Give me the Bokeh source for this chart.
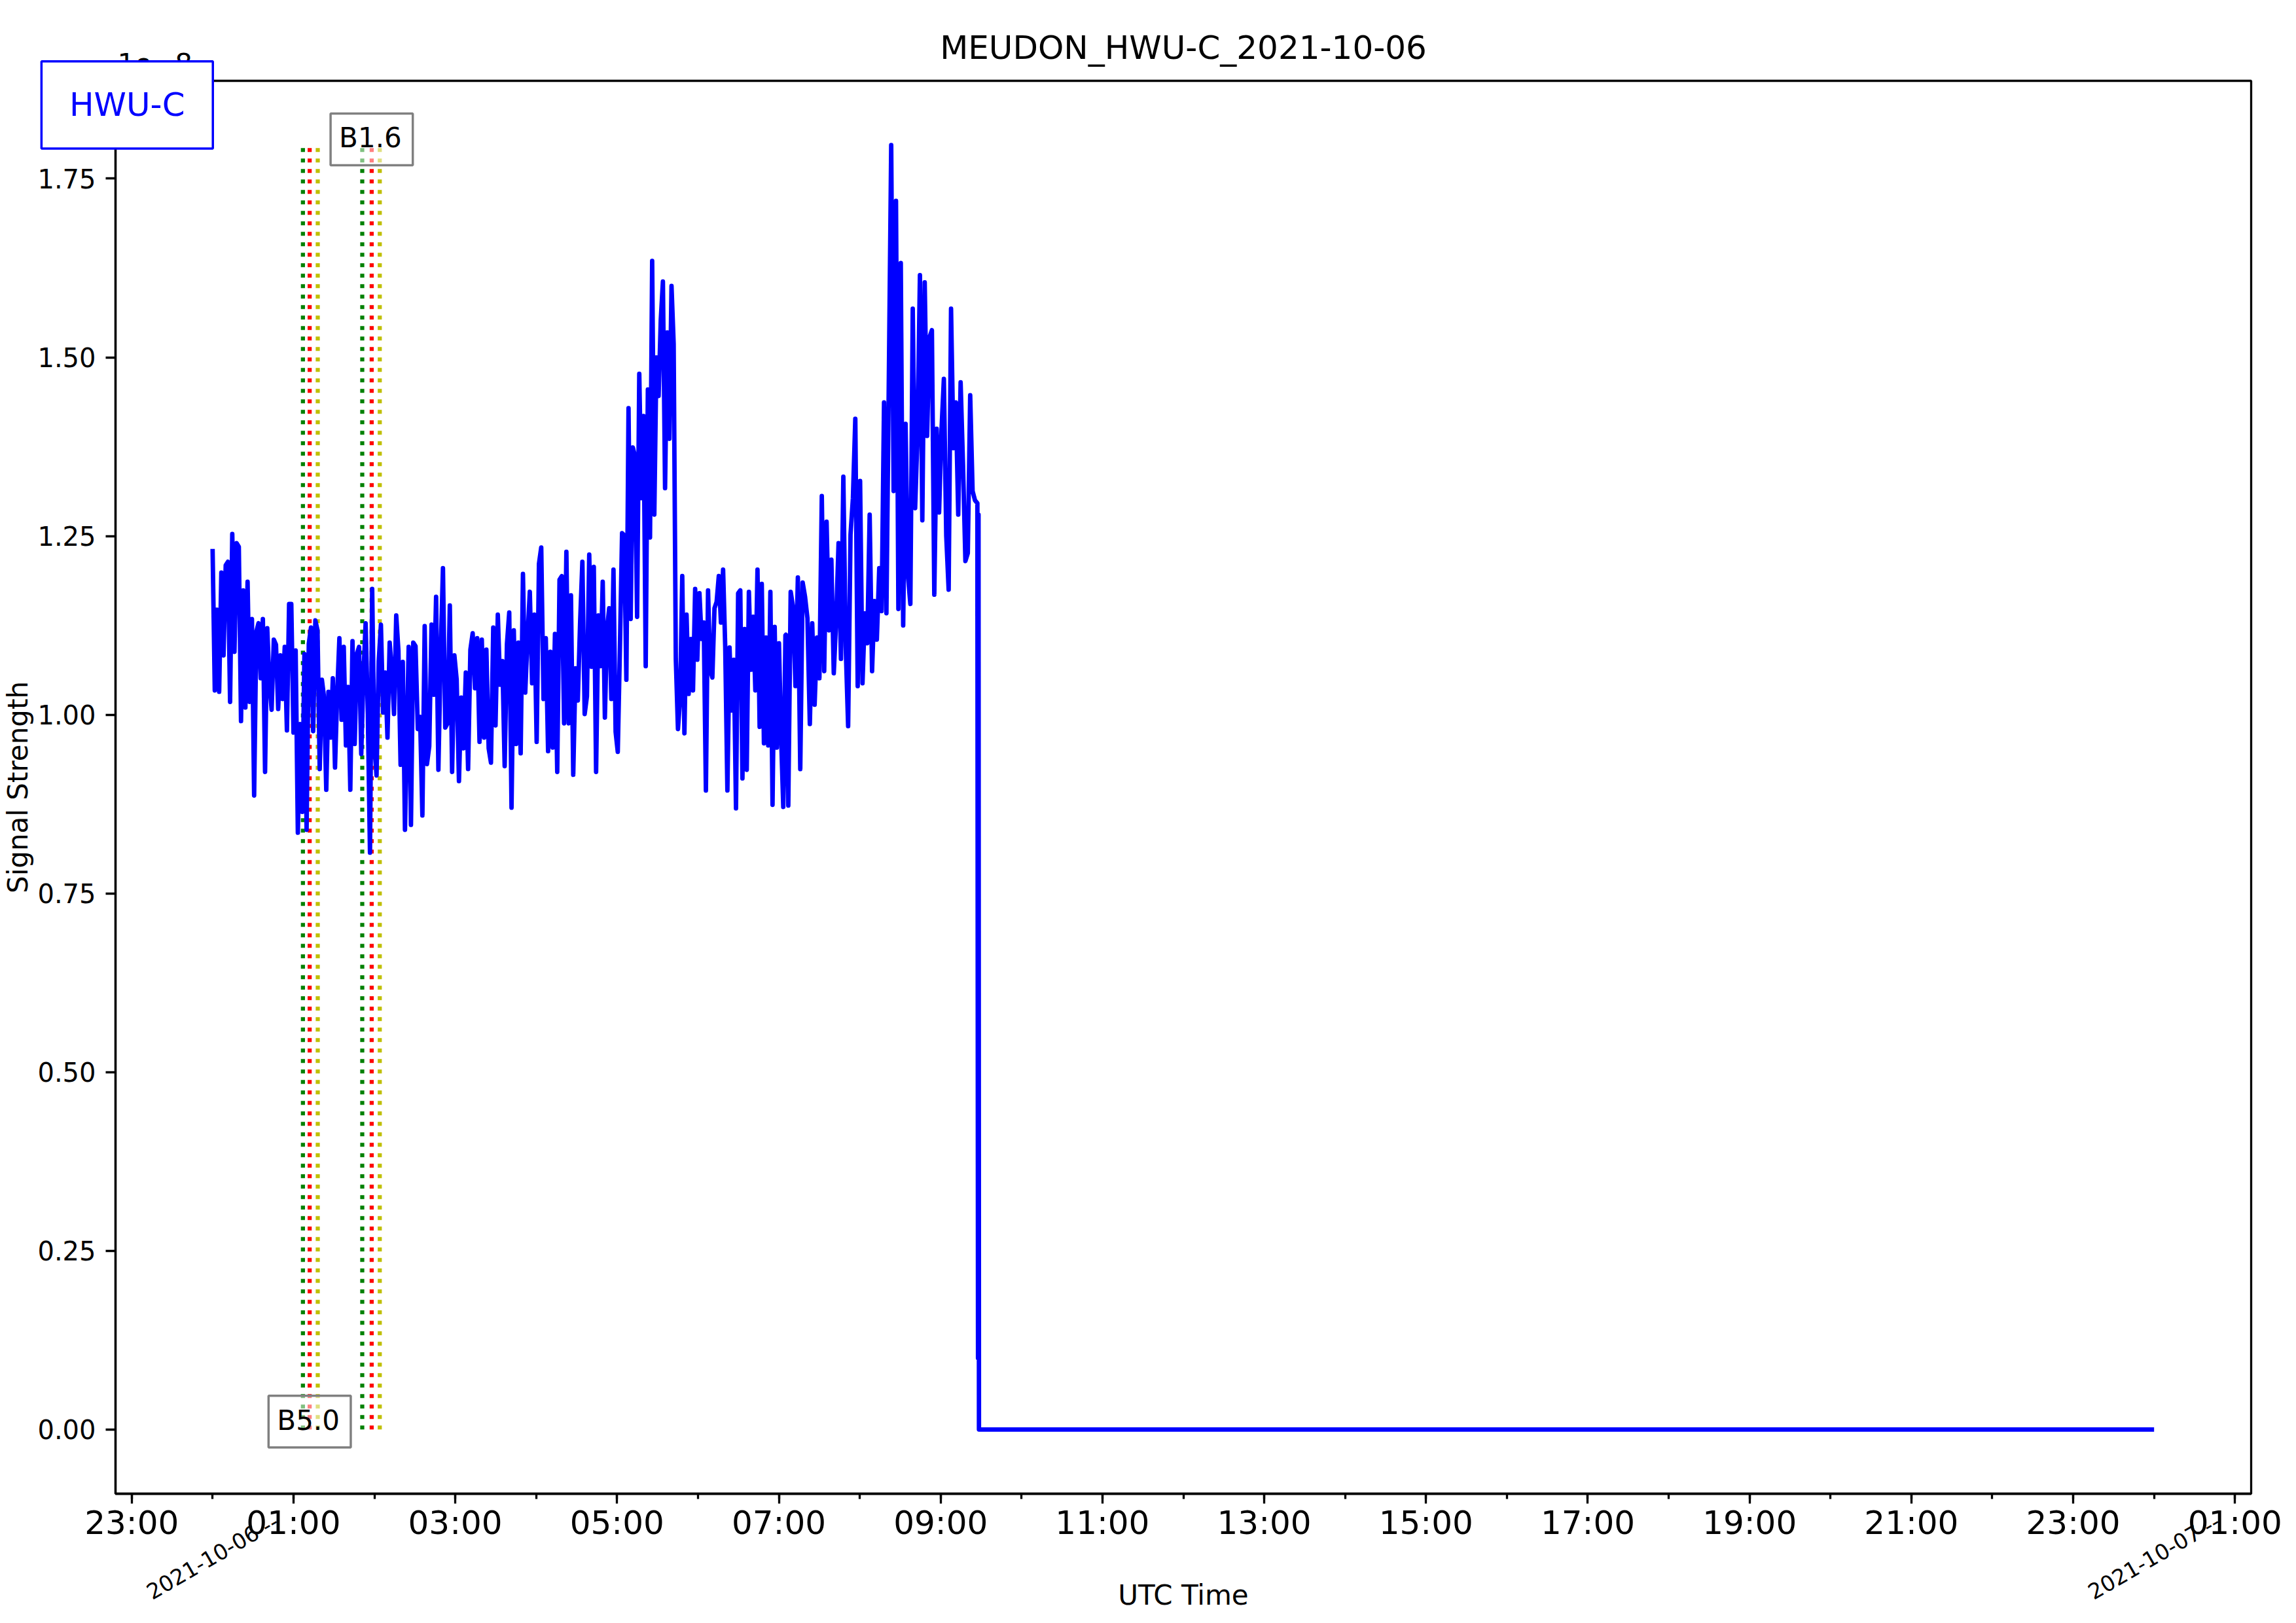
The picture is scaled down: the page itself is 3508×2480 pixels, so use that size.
import numpy as np
import pandas as pd
from bokeh.plotting import figure
from bokeh.models import (Range1d, FixedTicker, DatetimeTickFormatter,
                          NumeralTickFormatter, Label)
from bokeh.core.properties import value
from bokeh.embed import file_html
from bokeh.resources import INLINE

# ---------------- data (signal strength in units of 1e-8) ----------------
TITLE = "MEUDON_HWU-C_2021-10-06"
STATION = "HWU-C"
DATE_LABELS = ["2021-10-06 --", "2021-10-07 --"]
DATE_TICKS = ["2021-10-06 00:00", "2021-10-07 00:00"]
Y_TICKS = [0.0, 0.25, 0.5, 0.75, 1.0, 1.25, 1.5, 1.75]
OFFSET_TEXT = "1e\u22128"

block_1_span = ("2021-10-06 00:00:00", "2021-10-06 02:22:41")
block_1_vals = [
    1.232, 1.034, 1.147, 1.032, 1.199, 1.083, 1.209, 1.214, 1.018, 1.253,
    1.088, 1.240, 1.235, 0.991, 1.174, 1.010, 1.186, 1.018, 1.134, 0.887,
    1.116, 1.128, 1.051, 1.134, 0.920, 1.121, 1.045, 1.007, 1.105, 1.098,
    1.008, 1.083, 1.022, 1.095, 0.978, 1.155, 1.155, 0.975, 1.090, 0.835,
    0.987, 0.864, 1.085, 0.839, 1.099, 1.122, 0.977, 1.132, 1.118, 0.924,
    1.049, 1.024, 0.895, 1.032, 0.968, 1.051, 0.926, 1.030, 1.107, 0.993,
    1.095, 0.957, 1.039, 0.895, 1.103, 0.959, 1.085, 1.095, 0.945, 1.055,
    1.128, 1.003, 0.807, 1.176, 0.957, 0.915, 1.075, 1.126, 1.003, 1.059,
    0.968, 1.101, 1.062, 1.001, 1.139, 1.090, 0.930, 1.074, 0.839,
]

block_2_span = ("2021-10-06 02:25:26", "2021-10-06 04:46:08")
block_2_vals = [
    1.095, 0.846, 1.101, 1.096, 0.980, 0.997, 0.859, 1.124, 0.931, 0.956,
    1.126, 1.028, 1.165, 0.923, 1.086, 1.205, 0.982, 0.988, 1.153, 0.920,
    1.083, 1.049, 0.907, 1.024, 0.953, 1.059, 0.924, 1.091, 1.114, 1.037,
    1.107, 0.962, 1.105, 0.968, 1.091, 0.953, 0.933, 1.122, 0.985, 1.140,
    1.042, 1.075, 0.928, 1.099, 1.143, 0.870, 1.118, 0.959, 1.101, 0.946,
    1.197, 1.031, 1.107, 1.172, 1.044, 1.140, 0.962, 1.211, 1.234, 1.022,
    1.107, 0.949, 1.088, 0.954, 1.113, 0.920, 1.189, 1.194, 0.988, 1.228,
    0.988, 1.167, 0.916, 1.065, 1.020, 1.128, 1.214, 1.001, 1.026, 1.224,
    1.067, 1.207, 0.920, 1.139,
]

block_3_span = ("2021-10-06 04:47:46", "2021-10-06 07:04:52")
block_3_vals = [
    1.068, 1.186, 0.996, 1.120, 1.149, 1.022, 1.203, 0.976, 0.948, 1.094,
    1.254, 1.251, 1.049, 1.429, 1.134, 1.374, 1.362, 1.137, 1.477, 1.303,
    1.418, 1.068, 1.455, 1.248, 1.635, 1.280, 1.500, 1.446, 1.552, 1.606,
    1.317, 1.535, 1.386, 1.600, 1.519, 1.078, 0.980, 1.022, 1.194, 0.974,
    1.140, 1.029, 1.106, 1.034, 1.176, 1.077, 1.170, 1.106, 1.129, 0.894,
    1.174, 1.063, 1.052, 1.149, 1.158, 1.194, 1.129, 1.203, 1.094, 0.894,
    1.094, 1.006, 1.077, 0.869, 1.170, 1.174, 0.911, 1.120, 0.923, 1.172,
    1.063, 1.137, 1.034, 1.203, 0.983, 1.183, 0.960, 1.108, 0.957, 1.172,
    0.874, 1.123, 0.954, 1.100, 0.968, 0.871, 1.111,
]

block_4_span = ("2021-10-06 07:05:13", "2021-10-06 09:27:14")
block_4_vals = [
    1.112, 0.873, 1.172, 1.150, 1.040, 1.192, 0.924, 1.185, 1.165, 1.135,
    0.987, 1.128, 1.014, 1.108, 1.051, 1.306, 1.061, 1.270, 1.118, 1.217,
    1.058, 1.132, 1.240, 1.078, 1.333, 1.095, 0.984, 1.252, 1.303, 1.414,
    1.040, 1.327, 1.044, 1.142, 1.100, 1.280, 1.061, 1.159, 1.105, 1.205,
    1.145, 1.437, 1.142, 1.467, 1.797, 1.313, 1.719, 1.148, 1.632, 1.125,
    1.407, 1.195, 1.155, 1.568, 1.289, 1.393, 1.615, 1.272, 1.605, 1.390,
    1.528, 1.538, 1.168, 1.400, 1.283, 1.397, 1.470, 1.250, 1.175, 1.568,
    1.373, 1.437, 1.280, 1.465, 1.350, 1.215, 1.226, 1.447, 1.313, 1.300,
    1.296,
]

tail_times = ["2021-10-06 09:27:43", "2021-10-06 09:28:05",
              "2021-10-06 09:28:25", "2021-10-07 00:00:00"]
tail_vals = [0.10, 1.28, 0.00, 0.00]

flare_classes = ["B5.0", "B1.6"]
flare_start = ["2021-10-06 01:07", "2021-10-06 01:51"]
flare_peak = ["2021-10-06 01:12", "2021-10-06 01:58"]
flare_end = ["2021-10-06 01:18", "2021-10-06 02:04"]
flare_label_y = [0.011, 1.805]


def ms(t):
    return pd.Timestamp(t).value / 1e6


# ---------------- assemble series ----------------
blocks = [(block_1_span, block_1_vals), (block_2_span, block_2_vals),
          (block_3_span, block_3_vals), (block_4_span, block_4_vals)]
xs, ys = [], []
for (t0, t1), vals in blocks:
    xs.extend(np.linspace(ms(t0), ms(t1), len(vals)).tolist())
    ys.extend(vals)
xs.extend([ms(t) for t in tail_times])
ys.extend(tail_vals)
ymax = max(ys)

FONT = "DejaVu Sans"

p = figure(width=3492, height=2464, x_axis_type="datetime",
           x_range=Range1d(ms("2021-10-05 22:48"), ms("2021-10-07 01:12")),
           y_range=Range1d(-0.05 * ymax, 1.05 * ymax),
           output_backend="svg", toolbar_location=None, title=TITLE,
           min_border_left=172, min_border_right=53,
           min_border_top=123, min_border_bottom=182)
p.background_fill_color = "white"
p.border_fill_color = "white"
p.xgrid.visible = False
p.ygrid.visible = False
p.outline_line_color = "black"
p.outline_line_width = 3.3

p.title.text_font = FONT
p.title.text_font_size = "50px"
p.title.text_font_style = "normal"
p.title.text_color = "black"
p.title.align = "center"
p.title.standoff = 43

# flare lines (start / peak / end)
for starts, color in ((flare_start, "#008000"), (flare_peak, "#ff0000"),
                      (flare_end, "#bfbf00")):
    p.segment(x0=[ms(t) for t in starts], y0=[0.0] * len(starts),
              x1=[ms(t) for t in starts], y1=[ymax] * len(starts),
              line_color=color, line_width=6.25, line_dash="6 10",
              line_cap="butt")

p.line(xs, ys, line_color="#0000ff", line_width=6.8, line_join="round")

# x axis
major = [ms(t) for t in pd.date_range("2021-10-05 23:00", "2021-10-07 01:00", freq="2h")]
minor = [ms(t) for t in pd.date_range("2021-10-05 23:00", "2021-10-07 01:00", freq="1h")]
xa = p.xaxis[0]
xa.ticker = FixedTicker(ticks=major, minor_ticks=minor)
fmt = "%H:%M"
xa.formatter = DatetimeTickFormatter(minutes=fmt, hourmin=fmt, hours=fmt, days=fmt,
                                     months=fmt, years=fmt, minsec=fmt, seconds=fmt)
xa.axis_label = "UTC Time"
ya = p.yaxis[0]
ya.ticker = FixedTicker(ticks=Y_TICKS, minor_ticks=[])
ya.formatter = NumeralTickFormatter(format="0.00")
ya.axis_label = "Signal Strength"

for ax in (xa, ya):
    ax.axis_line_width = 3.3
    ax.axis_line_color = "black"
    ax.major_tick_line_width = 3.3
    ax.minor_tick_line_width = 3.3
    ax.major_tick_in = 0
    ax.major_tick_out = 15
    ax.minor_tick_in = 0
    ax.minor_tick_out = 8
    ax.major_label_text_font = FONT
    ax.axis_label_text_font = FONT
    ax.axis_label_text_font_style = "normal"
    ax.axis_label_text_font_size = "42px"
    ax.axis_label_text_color = "black"
    ax.major_label_text_color = "black"

xa.major_label_text_font_size = "50px"
xa.major_label_standoff = 0
xa.axis_label_standoff = 54
ya.major_label_text_font_size = "40px"
ya.major_label_standoff = 15
ya.axis_label_standoff = 2

# flare class boxes (inside the frame)
for cls, t, yv in zip(flare_classes, flare_peak, flare_label_y):
    p.add_layout(Label(x=ms(t), y=yv, text=cls, text_align="center",
                       text_baseline="middle", text_font=FONT,
                       text_font_size="42px", text_color="black",
                       background_fill_color="white", background_fill_alpha=0.5,
                       border_line_color="#808080", border_line_width=3.5,
                       padding=(13, 17, 13, 17)))

# texts outside the frame: drawn on the overlay level (not clipped)
p.text(x=[ms(t) for t in DATE_TICKS], y=[-0.178] * 2, text=DATE_LABELS,
       angle=30, angle_units="deg", text_align="center", text_baseline="middle",
       text_font=value(FONT), text_font_size=value("33px"), text_color="black",
       level="overlay")

# scale offset text (partly hidden by the station box, as in the original)
p.text(x=[ms("2021-10-05 22:49:24")], y=[1.897], text=[OFFSET_TEXT],
       text_align="left", text_baseline="bottom", text_font=value(FONT),
       text_font_size=value("42px"), text_color="black", level="overlay")

# station box (legend)
p.quad(left=[ms("2021-10-05 21:53:05")], right=[ms("2021-10-06 00:00:12")],
       top=[1.914], bottom=[1.792], fill_color="white", line_color="#0000ff",
       line_width=3.5, level="overlay")
p.text(x=[ms("2021-10-05 22:56:38")], y=[1.853], text=[STATION],
       text_align="center", text_baseline="middle", text_font=value(FONT),
       text_font_size=value("50px"), text_color="#0000ff", level="overlay")

open("out.html", "w").write(file_html(p, INLINE))
